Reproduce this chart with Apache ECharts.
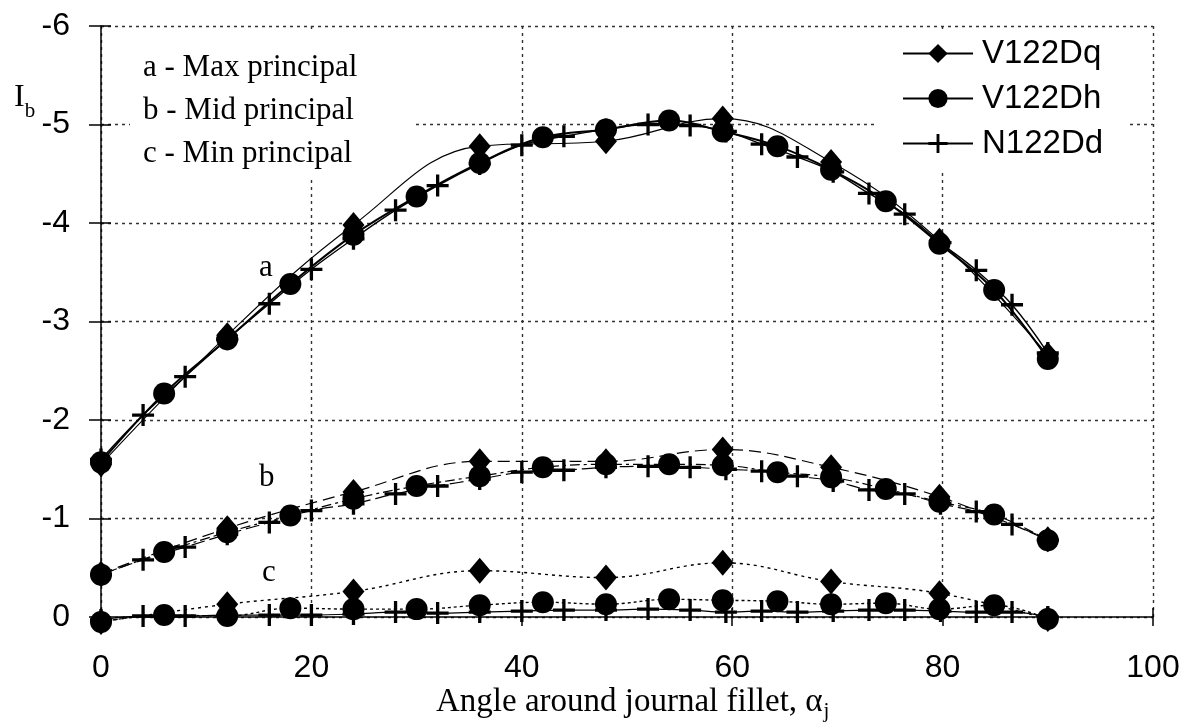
<!DOCTYPE html>
<html>
<head>
<meta charset="utf-8">
<title>Ib vs angle around journal fillet</title>
<script src="https://cdn.jsdelivr.net/npm/echarts@6/dist/echarts.min.js"></script>
<style>
  html, body { margin: 0; padding: 0; background: #fff; }
  #myChart { width: 1191px; height: 725px; }
</style>
</head>
<body>
<div id="myChart"></div>
<script>
// x positions of the three models (angle, deg)
var xDq = [0, 12, 24, 36, 48, 59.1, 69.4, 79.7, 90];
var xDh = [0, 6, 12, 18, 24, 30, 36, 42, 48, 54, 59.1, 64.3, 69.4, 74.6, 79.7, 84.9, 90];
var xDd = [0, 4, 8, 12, 16, 20, 24, 28, 32, 36, 40, 44, 48, 52, 56, 59.4, 62.8, 66.2, 69.6, 73, 76.4, 79.8, 83.2, 86.6, 90];

// a - Max principal
var aDq = [-1.55, -2.86, -3.98, -4.78, -4.83, -5.06, -4.62, -3.82, -2.66];
var aDh = [-1.57, -2.27, -2.82, -3.38, -3.88, -4.27, -4.61, -4.87, -4.95, -5.04, -4.93, -4.78, -4.54, -4.22, -3.79, -3.32, -2.62];
var aDd = [-1.6, -2.05, -2.44, -2.82, -3.18, -3.53, -3.84, -4.13, -4.38, -4.6, -4.79, -4.88, -4.95, -5.0, -4.99, -4.93, -4.8, -4.67, -4.52, -4.3, -4.09, -3.8, -3.52, -3.17, -2.68];

// b - Mid principal
var bDq = [-0.44, -0.9, -1.27, -1.58, -1.58, -1.7, -1.52, -1.22, -0.79];
var bDh = [-0.43, -0.66, -0.86, -1.03, -1.2, -1.33, -1.43, -1.52, -1.55, -1.55, -1.54, -1.47, -1.42, -1.3, -1.17, -1.04, -0.78];
var bDd = [-0.43, -0.58, -0.71, -0.84, -0.96, -1.08, -1.15, -1.25, -1.33, -1.4, -1.47, -1.49, -1.52, -1.53, -1.52, -1.5, -1.48, -1.43, -1.38, -1.29, -1.25, -1.15, -1.07, -0.94, -0.78];

// c - Min principal
var cDq = [0.05, -0.13, -0.26, -0.47, -0.4, -0.55, -0.36, -0.24, 0.02];
var cDh = [0.05, -0.02, -0.01, -0.09, -0.08, -0.08, -0.12, -0.15, -0.13, -0.18, -0.17, -0.16, -0.13, -0.14, -0.08, -0.12, 0.02];
var cDd = [0.03, -0.01, -0.01, -0.02, -0.02, -0.02, -0.03, -0.05, -0.04, -0.05, -0.06, -0.07, -0.07, -0.08, -0.07, -0.05, -0.06, -0.05, -0.06, -0.07, -0.07, -0.06, -0.05, -0.05, 0.0];

var legendNames = ['V122Dq', 'V122Dh', 'N122Dd'];
var curveNotes = ['a - Max principal', 'b - Mid principal', 'c - Min principal'];

var SANS = '"Liberation Sans", Arial, sans-serif';
var SERIF = '"Liberation Serif", "Times New Roman", serif';
var PLUS = 'path://M8.5,0h3v8.5h8.5v3h-8.5v8.5h-3v-8.5h-8.5v-3h8.5z';

function pairs(xs, ys) {
  var out = [];
  for (var i = 0; i < xs.length; i++) out.push([xs[i], ys[i]]);
  return out;
}

function makeSeries(name, xs, ys, symbol, size, width, dash) {
  return {
    name: name,
    type: 'line',
    data: pairs(xs, ys),
    smooth: 0.4,
    clip: false,
    symbol: symbol,
    symbolSize: size,
    showAllSymbol: true,
    itemStyle: { color: '#000' },
    lineStyle: { color: '#000', width: width, type: dash },
    emphasis: { disabled: true },
    z: 3
  };
}

var myChart = echarts.init(document.getElementById('myChart'));

var gridLine = { show: true, lineStyle: { color: '#333', width: 1.4, type: [3, 4] } };

myChart.setOption({
  animation: false,
  backgroundColor: '#fff',
  grid: { left: 101, top: 26, width: 1052, height: 591 },
  xAxis: [{
    type: 'value', min: 0, max: 100, interval: 20,
    axisLine: { lineStyle: { color: '#000', width: 1.5 } },
    axisTick: { length: 9, lineStyle: { color: '#000', width: 1.5 } },
    axisLabel: { color: '#000', fontSize: 32, fontFamily: SANS, margin: 35 },
    splitLine: gridLine
  }, {
    type: 'value', min: 0, max: 100, interval: 20, position: 'bottom',
    axisLine: { show: false },
    axisTick: { inside: true, length: 9, lineStyle: { color: '#000', width: 1.5 } },
    axisLabel: { show: false },
    splitLine: { show: false }
  }],
  yAxis: [{
    type: 'value', min: -6, max: 0, interval: 1, inverse: true,
    axisLine: { show: true, lineStyle: { color: '#000', width: 1.5 } },
    axisTick: { show: true, length: 12, lineStyle: { color: '#000', width: 1.5 } },
    axisLabel: { color: '#000', fontSize: 32, fontFamily: SANS, margin: 31 },
    splitLine: gridLine
  }, {
    type: 'value', min: -6, max: 0, interval: 1, inverse: true, position: 'left',
    axisLine: { show: false },
    axisTick: { show: true, inside: true, length: 10, lineStyle: { color: '#000', width: 1.5 } },
    axisLabel: { show: false },
    splitLine: { show: false }
  }],
  legend: {
    data: legendNames,
    orient: 'vertical',
    left: 878, top: 33,
    padding: [4, 24, 13, 24],
    backgroundColor: '#fff',
    itemWidth: 70, itemHeight: 24, itemGap: 12,
    textStyle: { color: '#000', fontSize: 33, fontFamily: SANS, lineHeight: 33, padding: [0, 0, 0, 4] },
    selectedMode: false
  },
  graphic: [
    // white box behind the curve notes
    { type: 'rect', left: 130, top: 33, shape: { width: 285, height: 147 }, style: { fill: '#fff' }, z: 1 },
    { type: 'text', left: 143, top: 46, z: 2,
      style: { text: curveNotes.join('\n'), font: '31px ' + SERIF, lineHeight: 43, fill: '#000' } },
    { type: 'text', left: 259, top: 252, z: 2, style: { text: 'a', font: '31px ' + SERIF, fill: '#000' } },
    { type: 'text', left: 259, top: 462, z: 2, style: { text: 'b', font: '31px ' + SERIF, fill: '#000' } },
    { type: 'text', left: 262, top: 557, z: 2, style: { text: 'c', font: '31px ' + SERIF, fill: '#000' } },
    // axis names
    { type: 'text', left: 14, top: 82, z: 2,
      style: {
        text: '{n|I}{s|b}',
        rich: {
          n: { fontSize: 32, fontFamily: SERIF, color: '#000', verticalAlign: 'top' },
          s: { fontSize: 21, fontFamily: SERIF, color: '#000', verticalAlign: 'bottom', padding: [0, 0, -8, 0] }
        }
      } },
    { type: 'text', left: 436, top: 686, z: 2,
      style: {
        text: '{n|Angle around journal fillet, α}{s|j}',
        rich: {
          n: { fontSize: 33, fontFamily: SERIF, color: '#000' },
          s: { fontSize: 21, fontFamily: SERIF, color: '#000', verticalAlign: 'bottom', padding: [0, 0, -3, 1] }
        }
      } }
  ],
  series: [
    makeSeries('V122Dq', xDq, aDq, 'diamond', [22, 26], 1.1, 'solid'),
    makeSeries('V122Dh', xDh, aDh, 'circle', 22, 2, 'solid'),
    makeSeries('N122Dd', xDd, aDd, PLUS, 22, 1.4, 'solid'),
    makeSeries('V122Dq', xDq, bDq, 'diamond', [22, 26], 1.2, [12, 6]),
    makeSeries('V122Dh', xDh, bDh, 'circle', 22, 1.2, [10, 4, 3, 4]),
    makeSeries('N122Dd', xDd, bDd, PLUS, 22, 1.2, [14, 5]),
    makeSeries('V122Dq', xDq, cDq, 'diamond', [22, 26], 1.4, [3, 4]),
    makeSeries('V122Dh', xDh, cDh, 'circle', 22, 1.4, [3, 3]),
    makeSeries('N122Dd', xDd, cDd, PLUS, 22, 1.2, 'solid')
  ]
});
</script>
</body>
</html>
